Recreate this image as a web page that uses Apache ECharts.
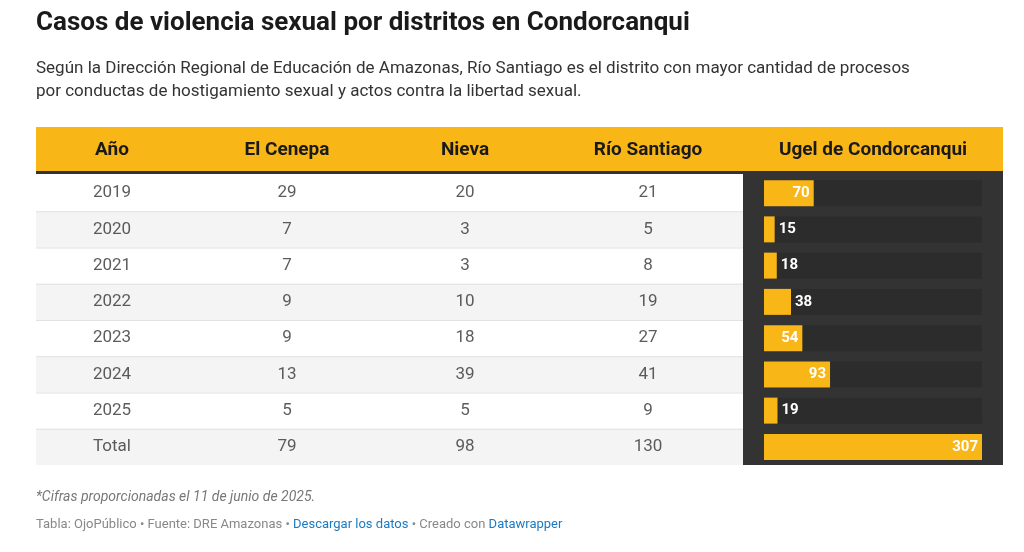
<!DOCTYPE html><html><head><meta charset="utf-8">
<script src="https://cdn.jsdelivr.net/npm/echarts@6/dist/echarts.min.js"></script>
<style>body{margin:0;background:#fff}#c{width:1024px;height:552px}</style></head><body><div id="c"></div>
<script>
const years=['2019','2020','2021','2022','2023','2024','2025','Total'];
const cenepa=[29,7,7,9,9,13,5,79];
const nieva=[20,3,3,10,18,39,5,98];
const santiago=[21,5,8,19,27,41,9,130];
const ugel=[70,15,18,38,54,93,19,307];
const headers=['Año','El Cenepa','Nieva','Río Santiago','Ugel de Condorcanqui'];

const F='Roboto, sans-serif';
const L=36,R=1003,HT=127,HB=173,TOP=175,RH=36.25,N=years.length,DARK=743;
const colX=[112,287,465,648,873];
const g=[];
g.push({type:'text',left:36,top:10,style:{text:'Casos de violencia sexual por distritos en Condorcanqui',font:'bold 26px '+F,fill:'#1a1a1a'}});
g.push({type:'text',left:36,top:57,style:{text:'Según la Dirección Regional de Educación de Amazonas, Río Santiago es el distrito con mayor cantidad de procesos\npor conductas de hostigamiento sexual y actos contra la libertad sexual.',font:'17px '+F,fill:'#333',lineHeight:23}});
g.push({type:'rect',shape:{x:L,y:HT,width:R-L,height:HB-HT},style:{fill:'#F9B617'},z:-2});
g.push({type:'rect',shape:{x:L,y:HB-2,width:R-L,height:3},style:{fill:'#333'},z:-1});
for(let i=0;i<N;i++){
  const y=TOP+i*RH;
  if(i%2==1) g.push({type:'rect',shape:{x:L,y:y,width:DARK-L,height:RH},style:{fill:'#f4f4f4'},z:-2});
  if(i>0) g.push({type:'rect',shape:{x:L,y:y,width:DARK-L,height:1},style:{fill:'#e2e2e2'},z:-1});
}
g.push({type:'rect',shape:{x:DARK,y:TOP-1,width:R-DARK,height:N*RH+1},style:{fill:'#333333'},z:-2});
headers.forEach((h,i)=>g.push({type:'text',x:colX[i],y:(HT+HB)/2,style:{text:h,font:'bold 19px '+F,fill:'#1a1a1a',align:'center',verticalAlign:'middle'}}));
g.push({type:'text',left:36,top:490,style:{text:'*Cifras proporcionadas el 11 de junio de 2025.',font:'italic 14px '+F,fill:'#777'}});
g.push({type:'text',left:36,top:518,style:{rich:{a:{font:'13px '+F,fill:'#888'},b:{font:'13px '+F,fill:'#1a7bc4'}},text:'{a|Tabla: OjoPúblico • Fuente: DRE Amazonas • }{b|Descargar los datos}{a| • Creado con }{b|Datawrapper}'}});

const cols=[years,cenepa,nieva,santiago];
const series=cols.map((arr,ci)=>({type:'scatter',xAxisIndex:0,yAxisIndex:0,symbolSize:0,silent:true,
  data:arr.map((v,ri)=>[colX[ci]-L,years[ri],v]),
  label:{show:true,position:'inside',formatter:p=>String(p.value[2]),fontFamily:F,fontSize:17,color:'#333'}}));
series.push({type:'bar',xAxisIndex:1,yAxisIndex:1,barWidth:26,showBackground:true,backgroundStyle:{color:'#2c2c2c'},
  itemStyle:{color:'#F9B617'},
  data:ugel.map(v=>({value:v,label:{show:true,position:v>=50?'insideRight':'right',distance:4,color:'#fff',fontFamily:F,fontWeight:'bold',fontSize:15}}))});

const chart=echarts.init(document.getElementById('c'));
chart.setOption({animation:false,graphic:g,
  grid:[{left:L,top:TOP,width:DARK-L,height:N*RH},{left:764,top:TOP,width:218,height:N*RH}],
  xAxis:[{type:'value',min:0,max:DARK-L,show:false},{gridIndex:1,type:'value',min:0,max:307,show:false}],
  yAxis:[{type:'category',data:years,inverse:true,show:false},{gridIndex:1,type:'category',data:years,inverse:true,show:false}],
  series});
</script></body></html>
